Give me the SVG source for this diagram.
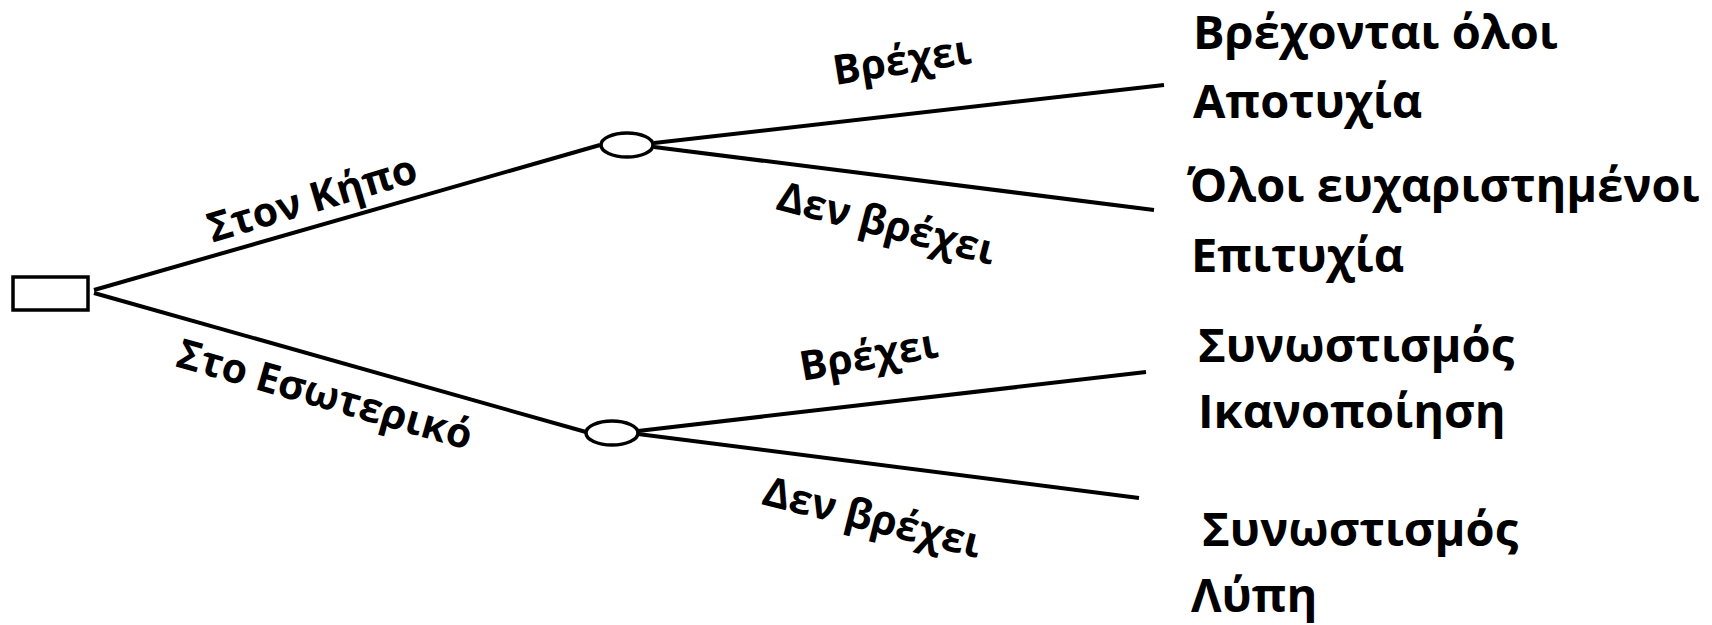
<svg xmlns="http://www.w3.org/2000/svg" width="1712" height="625" viewBox="0 0 1712 625">
  <style>
    .edge { stroke: #000; stroke-width: 4; fill: none; }
    .node { stroke: #000; stroke-width: 3.5; fill: #fff; }
    .lbl { font-family: "Open Sans", "Noto Sans", "DejaVu Sans", sans-serif; font-weight: bold; font-size: 41px; fill: #000; text-anchor: middle; }
    .out { font-family: "Open Sans", "Noto Sans", "DejaVu Sans", sans-serif; font-weight: bold; font-size: 47px; fill: #000; }
  </style>
  <rect width="1712" height="625" fill="#fff"/>

  <!-- branches of the decision tree -->
  <g id="connectors">
    <line class="edge" x1="94" y1="290" x2="600" y2="145"/>
    <line class="edge" x1="94" y1="293" x2="586" y2="432"/>
    <line class="edge" x1="654" y1="143" x2="1164" y2="85"/>
    <line class="edge" x1="654" y1="147" x2="1154" y2="210"/>
    <line class="edge" x1="638" y1="431" x2="1146" y2="372"/>
    <line class="edge" x1="638" y1="434" x2="1139" y2="498"/>
  </g>

  <!-- decision node -->
  <g id="decision">
    <rect class="node" x="13" y="277" width="75" height="33"/>
  </g>

  <!-- chance nodes -->
  <g id="chance-garden">
    <ellipse class="node" cx="627" cy="145" rx="26" ry="12"/>
  </g>
  <g id="chance-indoors">
    <ellipse class="node" cx="612" cy="433" rx="26" ry="12"/>
  </g>

  <!-- branch labels (anchored at baseline midpoint) -->
  <g id="branch-labels">
    <text class="lbl" transform="translate(316,212) rotate(-16.5)">Στον Κήπο</text>
    <text class="lbl" transform="translate(321,408) rotate(16)">Στο Εσωτερικό</text>
    <text class="lbl" transform="translate(904,74) rotate(-9)">Βρέχει</text>
    <text class="lbl" transform="translate(883,237) rotate(14.5)">Δεν βρέχει</text>
    <text class="lbl" transform="translate(871,369) rotate(-10)">Βρέχει</text>
    <text class="lbl" transform="translate(869,531) rotate(14)">Δεν βρέχει</text>
  </g>

  <!-- outcomes -->
  <g id="outcome-1">
    <text class="out" x="1193" y="49">Βρέχονται όλοι</text>
    <text class="out" x="1193" y="118">Αποτυχία</text>
  </g>
  <g id="outcome-2">
    <text class="out" x="1187" y="202">Όλοι ευχαριστημένοι</text>
    <text class="out" x="1191" y="272">Επιτυχία</text>
  </g>
  <g id="outcome-3">
    <text class="out" x="1198" y="362">Συνωστισμός</text>
    <text class="out" x="1198" y="428">Ικανοποίηση</text>
  </g>
  <g id="outcome-4">
    <text class="out" x="1202" y="546">Συνωστισμός</text>
    <text class="out" x="1191" y="612">Λύπη</text>
  </g>
</svg>
